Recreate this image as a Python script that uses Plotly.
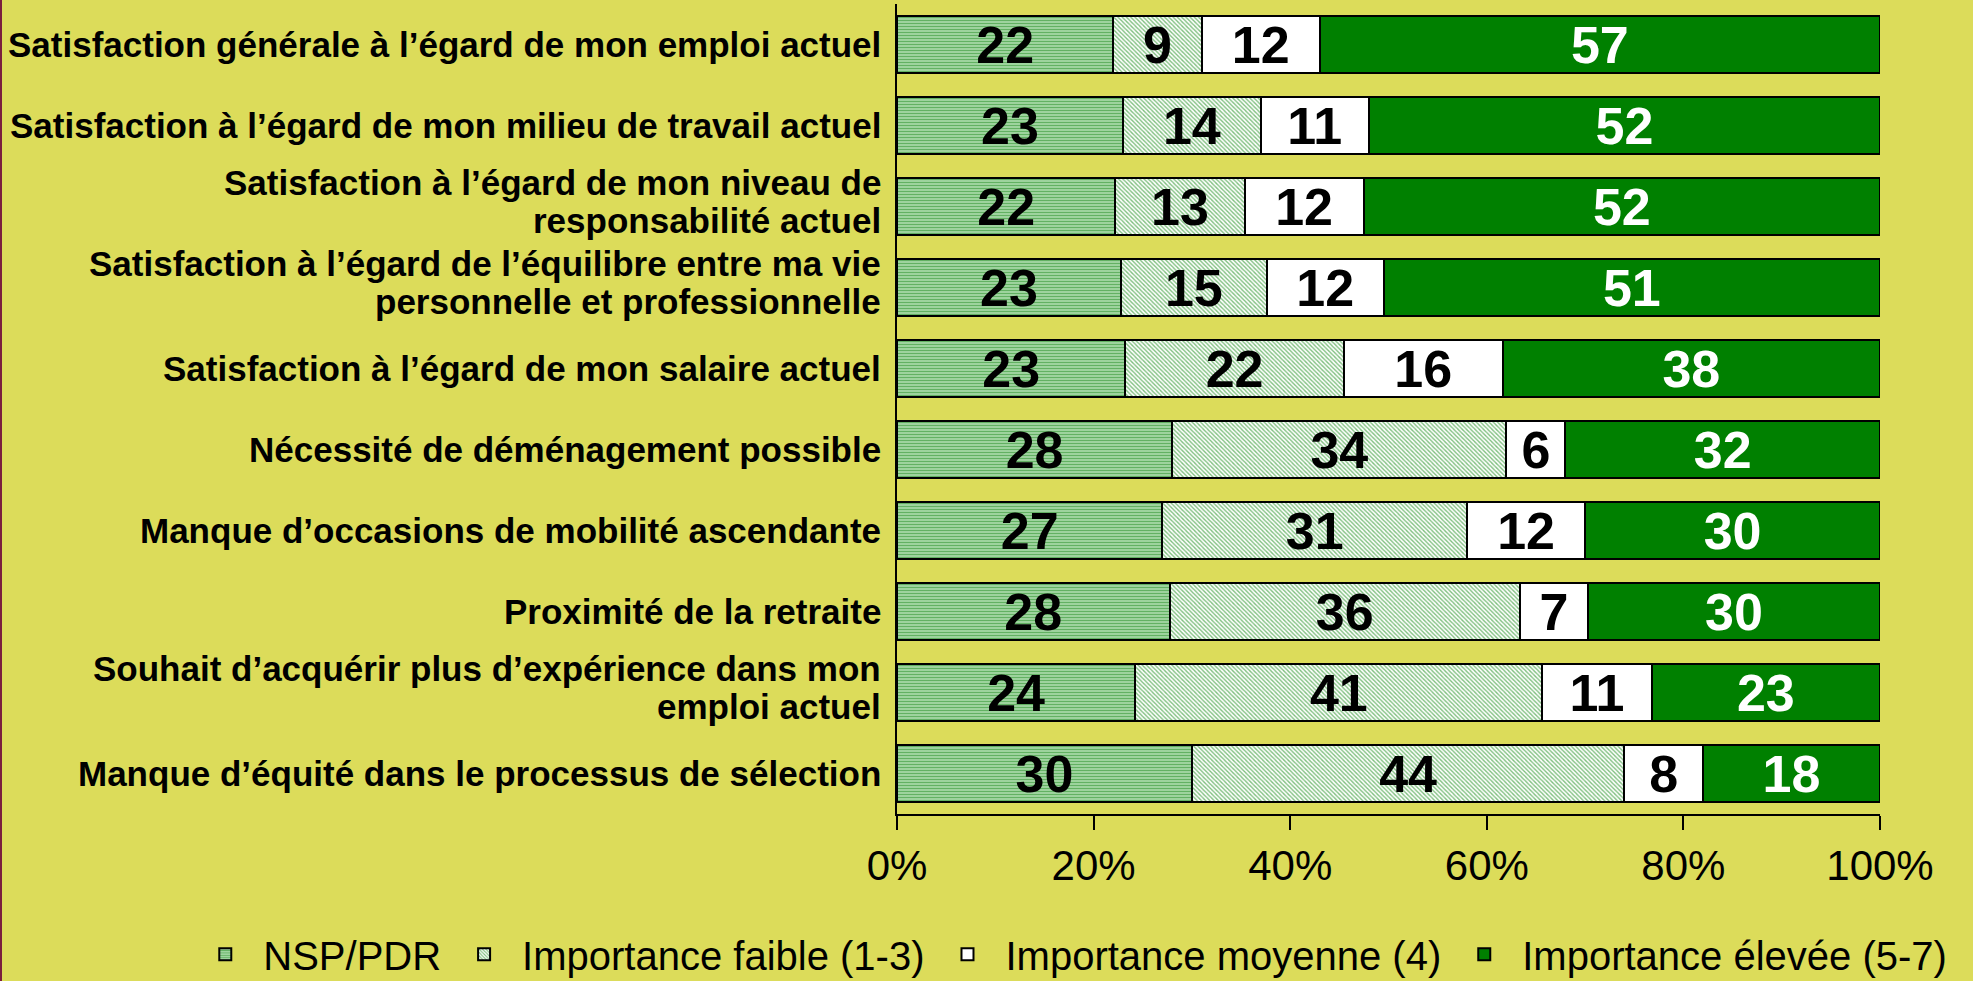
import plotly.graph_objects as go

categories = [
    "Satisfaction générale à l’égard de mon emploi actuel",
    "Satisfaction à l’égard de mon milieu de travail actuel",
    "Satisfaction à l’égard de mon niveau de<br>responsabilité actuel",
    "Satisfaction à l’égard de l’équilibre entre ma vie<br>personnelle et professionnelle",
    "Satisfaction à l’égard de mon salaire actuel",
    "Nécessité de déménagement possible",
    "Manque d’occasions de mobilité ascendante",
    "Proximité de la retraite",
    "Souhait d’acquérir plus d’expérience dans mon<br>emploi actuel",
    "Manque d’équité dans le processus de sélection",
]

nsp = [22, 23, 22, 23, 23, 28, 27, 28, 24, 30]
faible = [9, 14, 13, 15, 22, 34, 31, 36, 41, 44]
moyenne = [12, 11, 12, 12, 16, 6, 12, 7, 11, 8]
elevee = [57, 52, 52, 51, 38, 32, 30, 30, 23, 18]

series_names = ["NSP/PDR", "Importance faible (1-3)", "Importance moyenne (4)", "Importance élevée (5-7)"]
tick_vals = [0, 20, 40, 60, 80, 100]
tick_text = ["0%", "20%", "40%", "60%", "80%", "100%"]

BG = "#DCDC5A"
GREEN = "#008000"
FONT = "Liberation Sans, Arial, sans-serif"

styles = [
    dict(color="#ffffff", pattern=dict(shape="-", fgcolor="#007800", bgcolor="#c4eac4", size=3, solidity=0.6), tc="black"),
    dict(color="#ffffff", pattern=dict(shape="\\", fgcolor=GREEN, bgcolor="#ffffff", size=3, solidity=0.45), tc="black"),
    dict(color="#ffffff", pattern=None, tc="black"),
    dict(color=GREEN, pattern=None, tc="white"),
]

fig = go.Figure()
for name, vals, st in zip(series_names, [nsp, faible, moyenne, elevee], styles):
    marker = dict(color=st["color"], line=dict(color="black", width=2))
    if st["pattern"] is not None:
        marker["pattern"] = st["pattern"]
    fig.add_trace(go.Bar(
        name=name, y=categories, x=vals, orientation="h",
        text=vals, texttemplate="%{text}", textposition="inside",
        insidetextanchor="middle", constraintext="none", textangle=0,
        textfont=dict(family=FONT, size=52, color=st["tc"], weight="bold"),
        marker=marker, hoverinfo="skip",
    ))

# category labels as right-aligned text lines with tight line spacing
annotations = []
for cat in categories:
    lines = cat.split("<br>")
    shifts = [0] if len(lines) == 1 else [24, -14]
    for line, ys in zip(lines, shifts):
        annotations.append(dict(
            text=line, xref="paper", x=0, xanchor="right", xshift=-14,
            yref="y", y=cat, yanchor="middle", yshift=ys, showarrow=False,
            font=dict(family=FONT, size=35, color="black", weight="bold"),
        ))

fig.update_layout(
    width=1973, height=981,
    barmode="stack", barnorm="percent", bargap=0.30,
    paper_bgcolor=BG, plot_bgcolor=BG,
    margin=dict(l=897, r=93, t=4, b=167, autoexpand=False),
    showlegend=True,
    legend=dict(orientation="h", traceorder="normal", xref="paper", x=-0.722, xanchor="left",
                yref="paper", y=-0.173, yanchor="middle", itemwidth=66,
                font=dict(family=FONT, size=40, color="black"),
                bgcolor="rgba(0,0,0,0)", itemclick=False),
    font=dict(family=FONT, color="black"),
    annotations=annotations,
    shapes=[dict(type="line", xref="paper", yref="paper", x0=-897/983 + 1/983, x1=-897/983 + 1/983,
                 y0=-167/810, y1=1 + 4/810, line=dict(color="#7a1f3d", width=2))],
)
fig.update_xaxes(range=[0, 100], tickvals=tick_vals, ticktext=tick_text,
                 showline=True, linecolor="black", linewidth=2,
                 ticks="outside", ticklen=14, tickwidth=2, tickcolor="black",
                 showgrid=False, zeroline=False, automargin=False,
                 tickfont=dict(family=FONT, size=42, color="black"))
fig.update_yaxes(range=[9.5, -0.5], showline=True, linecolor="black", linewidth=2,
                 ticks="", showgrid=False, zeroline=False, showticklabels=False,
                 automargin=False)

fig.write_html("out.html", config={"displayModeBar": False},
               post_script="document.body.style.margin='0';document.body.style.padding='0';")
